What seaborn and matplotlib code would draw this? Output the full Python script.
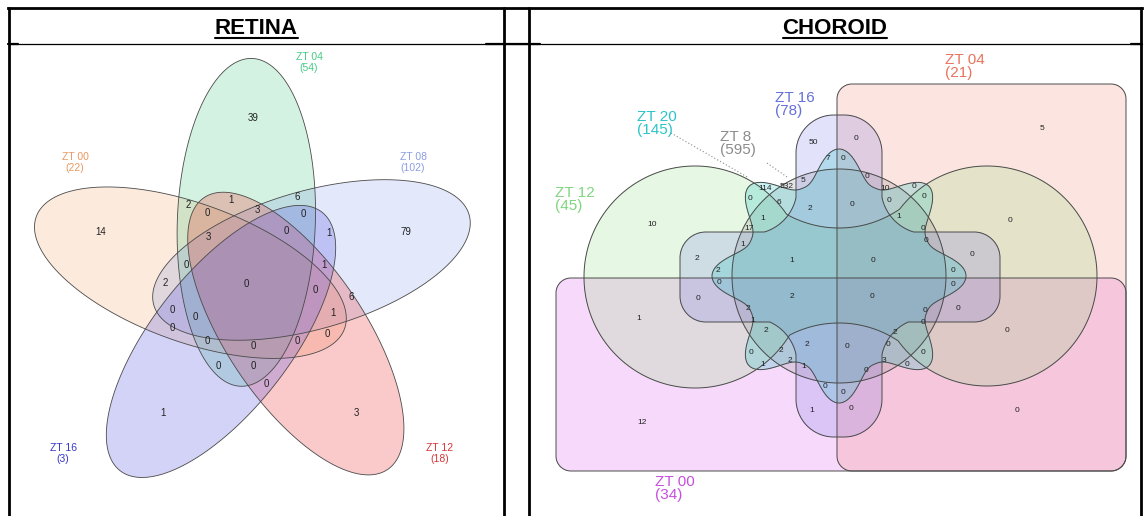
import numpy as np
import matplotlib
matplotlib.use("Agg")
import matplotlib.pyplot as plt
from matplotlib.patches import Polygon
import seaborn as sns

sns.set_theme(style="white")
plt.rcParams["font.family"] = ["Liberation Sans", "DejaVu Sans"]

# ------------------------------------------------------------------ data
retina_sets = ["ZT 00", "ZT 04", "ZT 08", "ZT 12", "ZT 16"]
retina_totals = [22, 54, 102, 18, 3]
retina_counts = [39, 14, 79, 1, 3, 2, 0, 1, 3, 6, 0, 3, 0, 0, 1, 1, 0, 2,
                 0, 0, 0, 0, 0, 0, 0, 0, 0, 6, 1, 0, 0]

choroid_sets = ["ZT 00", "ZT 04", "ZT 8", "ZT 12", "ZT 16", "ZT 20"]
choroid_totals = [34, 21, 595, 45, 78, 145]
choroid_counts = [50, 0, 7, 0, 5, 114, 532, 0, 6, 2, 10, 1, 17, 1, 2, 1, 2, 0,
                  5, 0, 10, 0, 0, 0, 0, 1, 0, 0, 0, 0, 0, 0, 0, 2, 0, 0, 1,
                  2, 1, 2, 2, 0, 2, 1, 2, 1, 0, 0, 1, 12, 0, 0, 0, 0, 0, 2,
                  0, 0, 3, 0, 0, 0, 0]

# ------------------------------------------------------------------ layout
retina_count_xy = [(253, 118), (101, 232), (406, 232), (163, 413), (356, 413),
                   (188, 205), (207, 213), (231, 200), (257, 210), (297, 197),
                   (303, 214), (208, 237), (186, 265), (286, 231), (329, 233),
                   (324, 265), (246, 284), (165, 283), (172, 310), (195, 317),
                   (172, 328), (207, 341), (253, 346), (218, 366), (253, 366),
                   (266, 384), (315, 290), (351, 297), (333, 313), (327, 334),
                   (297, 341)]

choroid_count_xy = [(813, 143), (856, 139), (828, 159), (843, 158), (803, 181),
                    (765, 188), (787, 187), (750, 199), (779, 202), (810, 208),
                    (652, 225), (763, 218), (749, 229), (743, 244), (697, 259),
                    (792, 261), (718, 271), (719, 283), (1042, 128), (867, 177),
                    (885, 188), (914, 186), (852, 204), (889, 201), (924, 196),
                    (899, 216), (1010, 221), (923, 228), (926, 241), (972, 254),
                    (873, 261), (953, 271), (953, 284), (792, 296), (872, 297),
                    (698, 299), (639, 318), (748, 308), (753, 321), (766, 331),
                    (807, 345), (751, 352), (781, 351), (763, 365), (790, 360),
                    (804, 367), (825, 386), (843, 393), (812, 410), (642, 423),
                    (847, 346), (925, 311), (958, 308), (923, 323), (1007, 331),
                    (895, 332), (888, 345), (923, 352), (884, 361), (907, 364),
                    (866, 370), (851, 409), (1017, 411)]

W, H = 1144, 516
fig = plt.figure(figsize=(W / 100, H / 100), dpi=100)
ax = fig.add_axes([0, 0, 1, 1])
ax.set_xlim(0, W)
ax.set_ylim(H, 0)
ax.axis("off")

EDGE = "#4a4a4a"

# ------------------------------------------------------------------ table frame
thick, thin = 2.0, 0.9
ax.plot([8, 1142], [8, 8], color="black", lw=thick, solid_capstyle="projecting")
for xv in (9, 504, 529, 1141):
    ax.plot([xv, xv], [8, H + 2], color="black", lw=thick)
ax.plot([8, 1142], [43.5, 43.5], color="black", lw=thin)
for x0, x1 in ((8, 18), (486, 540), (1131, 1142)):
    ax.plot([x0, x1], [43.5, 43.5], color="black", lw=1.6)


def underlined_title(x, y, s):
    t = ax.text(x, y, s, ha="center", va="baseline", fontsize=16,
                fontweight="bold", color="black")
    fig.canvas.draw()
    bb = t.get_window_extent().transformed(ax.transData.inverted())
    ax.plot([bb.x0, bb.x1], [y + 3.5, y + 3.5], color="black", lw=1.5)


underlined_title(256, 34.5, "RETINA")
underlined_title(835, 34.5, "CHOROID")

# ------------------------------------------------------------------ retina: 5 ellipses
# order of sets around the ring: ZT04 (top), ZT08, ZT12, ZT16, ZT00
ret_fill = {"ZT 00": (245, 160, 100), "ZT 04": (60, 200, 120),
            "ZT 08": (100, 130, 230), "ZT 12": (240, 60, 60),
            "ZT 16": (80, 80, 230)}
ret_alpha = {"ZT 00": 0.22, "ZT 04": 0.22, "ZT 08": 0.18, "ZT 12": 0.27,
             "ZT 16": 0.25}
ret_text = {"ZT 00": "#e89860", "ZT 04": "#45c985", "ZT 08": "#8a9de4",
            "ZT 12": "#d93434", "ZT 16": "#3535cc"}
ring_order = ["ZT 04", "ZT 08", "ZT 12", "ZT 16", "ZT 00"]
O = np.array([253.0, 286.0])
dist, A, B = 64.0, 164.0, 69.0
t = np.linspace(0, 2 * np.pi, 400)
ellipses = {}
for k, name in enumerate(ring_order):
    phi = np.deg2rad(-96 + 72 * k)
    rot = phi + np.deg2rad(8.0)
    c = O + dist * np.array([np.cos(phi), np.sin(phi)])
    px = c[0] + A * np.cos(t) * np.cos(rot) - B * np.sin(t) * np.sin(rot)
    py = c[1] + A * np.cos(t) * np.sin(rot) + B * np.sin(t) * np.cos(rot)
    ellipses[name] = np.column_stack([px, py])

for name in retina_sets:
    col = np.array(ret_fill[name]) / 255
    ax.add_patch(Polygon(ellipses[name], closed=True, facecolor=col,
                         alpha=ret_alpha[name], edgecolor="none"))
for name in retina_sets:
    ax.add_patch(Polygon(ellipses[name], closed=True, facecolor="none",
                         edgecolor=EDGE, lw=0.6))

for v, (x, y) in zip(retina_counts, retina_count_xy):
    ax.text(x, y, str(v), ha="center", va="center", fontsize=7, color="#222222")

ret_label_xy = {"ZT 00": (75, 157), "ZT 04": (309, 57), "ZT 08": (413, 157),
                "ZT 12": (440, 448), "ZT 16": (63, 448)}
for name, tot in zip(retina_sets, retina_totals):
    x, y = ret_label_xy[name]
    ax.text(x, y, name, ha="center", va="center", fontsize=7.5,
            color=ret_text[name])
    ax.text(x, y + 11, f"({tot})", ha="center", va="center", fontsize=7.5,
            color=ret_text[name])

# ------------------------------------------------------------------ choroid: 6-set diagram
gx = np.arange(545, 1140, 1.0)
gy = np.arange(60, 500, 1.0)
X, Y = np.meshgrid(gx, gy)


def sd_circle(cx, cy, r):
    return np.hypot(X - cx, Y - cy) - r


def sd_box(x0, x1, y0, y1, rad=0.0):
    cx, cy = (x0 + x1) / 2, (y0 + y1) / 2
    hx, hy = (x1 - x0) / 2 - rad, (y1 - y0) / 2 - rad
    qx, qy = np.abs(X - cx) - hx, np.abs(Y - cy) - hy
    outside = np.hypot(np.maximum(qx, 0), np.maximum(qy, 0))
    return outside + np.minimum(np.maximum(qx, qy), 0) - rad


cx0, cy0 = 839.0, 276.0
shapes = {}
shapes["ZT 00"] = sd_box(556, 1126, 278, 471, 15)
shapes["ZT 04"] = sd_box(837, 1126, 84, 471, 15)
# two outer lobes joined by a pinched waist
waist = np.maximum.reduce([sd_box(695, 987, 192, 360),
                           -sd_circle(cx0, 121, 107),
                           -sd_circle(cx0, 430, 107)])
shapes["ZT 12"] = np.minimum.reduce([sd_circle(695, 277, 111),
                                     sd_circle(987, 276, 110), waist])
shapes["ZT 8"] = sd_circle(cx0, cy0, 107)
# cross with rounded inner corners
core = np.maximum.reduce([sd_box(751, 927, 188, 364),
                          -sd_circle(751, 188, 46), -sd_circle(927, 188, 46),
                          -sd_circle(751, 364, 46), -sd_circle(927, 364, 46)])
shapes["ZT 16"] = np.minimum.reduce([sd_box(796, 882, 115, 437, 38),
                                     sd_box(680, 1000, 232, 322, 26), core])
# eight small lobes around the centre
theta = np.arctan2(Y - cy0, X - cx0)
r_lobe = 95 + 32 * ((1 + np.cos(8 * theta)) / 2) ** 1.3
shapes["ZT 20"] = np.hypot(X - cx0, Y - cy0) - r_lobe

cho_fill = {"ZT 00": (220, 90, 240), "ZT 04": (240, 120, 100),
            "ZT 12": (120, 220, 100), "ZT 8": (128, 128, 128),
            "ZT 16": (110, 110, 230), "ZT 20": (40, 200, 200)}
cho_alpha = {"ZT 00": 0.22, "ZT 04": 0.2, "ZT 12": 0.18, "ZT 8": 0.2,
             "ZT 16": 0.2, "ZT 20": 0.25}
cho_text = {"ZT 00": "#c650dc", "ZT 04": "#e8735e", "ZT 12": "#7ed67e",
            "ZT 8": "#8c8c8c", "ZT 16": "#6470d8", "ZT 20": "#2cc4c8"}
draw_order = ["ZT 00", "ZT 04", "ZT 12", "ZT 8", "ZT 16", "ZT 20"]
for name in draw_order:
    F = shapes[name]
    ax.contourf(X, Y, F, levels=[F.min() - 1, 0],
                colors=[np.array(cho_fill[name]) / 255], alpha=cho_alpha[name])
for name in draw_order:
    ax.contour(X, Y, shapes[name], levels=[0], colors=EDGE, linewidths=0.7)

for v, (x, y) in zip(choroid_counts, choroid_count_xy):
    ax.text(x, y, str(v), ha="center", va="center", fontsize=6,
            color="#222222")

cho_label_xy = {"ZT 00": (655, 482), "ZT 04": (945, 60), "ZT 8": (720, 137),
                "ZT 12": (555, 193), "ZT 16": (775, 98), "ZT 20": (637, 117)}
for name, tot in zip(choroid_sets, choroid_totals):
    x, y = cho_label_xy[name]
    ax.text(x, y, name, ha="left", va="center", fontsize=11,
            color=cho_text[name])
    ax.text(x, y + 13, f"({tot})", ha="left", va="center", fontsize=11,
            color=cho_text[name])

# leader lines from two labels to their own-only regions
ax.plot([671, 749], [133, 178], ls=(0, (1, 2)), color="#888888", lw=0.8)
ax.plot([767, 787], [163, 177], ls=(0, (1, 2)), color="#888888", lw=0.8)

fig.savefig("out.png", dpi=100)
